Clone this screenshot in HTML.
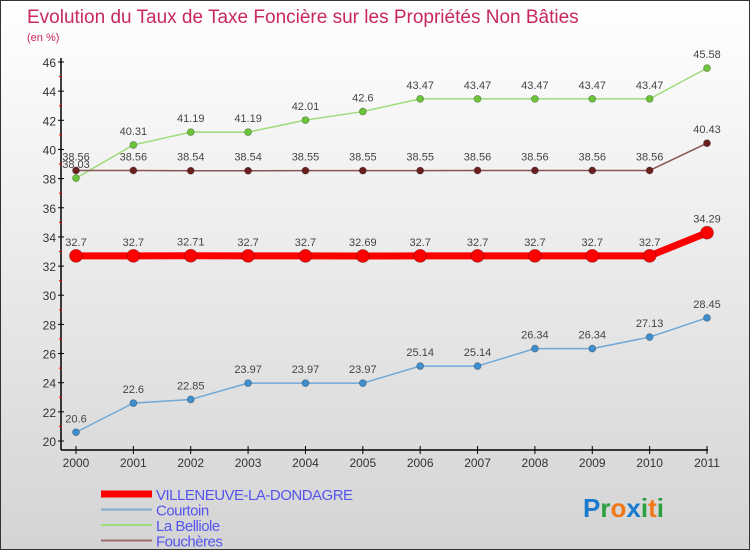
<!DOCTYPE html>
<html><head><meta charset="utf-8"><style>
body{margin:0}
#wrap{position:relative;width:748px;height:548px;border:1px solid #333;background:linear-gradient(#fff,#d4d4d4);font-family:"Liberation Sans",sans-serif;overflow:hidden}
svg{position:absolute;left:0;top:0}
</style></head><body>
<div id="wrap">
<svg id="c" width="750" height="550"></svg>
</div>
<script>
const years=[2000,2001,2002,2003,2004,2005,2006,2007,2008,2009,2010,2011];
const yTicks=[20,22,24,26,28,30,32,34,36,38,40,42,44,46];
const villeneuve=[32.7,32.7,32.71,32.7,32.7,32.69,32.7,32.7,32.7,32.7,32.7,34.29];
const villeneuveLabels=["32.7","32.7","32.71","32.7","32.7","32.69","32.7","32.7","32.7","32.7","32.7","34.29"];
const courtoin=[20.6,22.6,22.85,23.97,23.97,23.97,25.14,25.14,26.34,26.34,27.13,28.45];
const courtoinLabels=["20.6","22.6","22.85","23.97","23.97","23.97","25.14","25.14","26.34","26.34","27.13","28.45"];
const belliole=[38.03,40.31,41.19,41.19,42.01,42.6,43.47,43.47,43.47,43.47,43.47,45.58];
const bellioleLabels=["38.03","40.31","41.19","41.19","42.01","42.6","43.47","43.47","43.47","43.47","43.47","45.58"];
const foucheres=[38.56,38.56,38.54,38.54,38.55,38.55,38.55,38.56,38.56,38.56,38.56,40.43];
const foucheresLabels=["38.56","38.56","38.54","38.54","38.55","38.55","38.55","38.56","38.56","38.56","38.56","40.43"];

const svg=document.getElementById('c');const NS='http://www.w3.org/2000/svg';
function X(i){return 75+i*(706-75)/11;}
function Y(v){return 440-(v-20)*(440-61)/26;}
function mk(t,a,p){const e=document.createElementNS(NS,t);for(const k in a)e.setAttribute(k,a[k]);(p||svg).appendChild(e);return e;}
function txt(x,y,s,a){const e=mk('text',Object.assign({x:x,y:y},a));e.textContent=s;return e;}

let t=txt(26,22,"Evolution du Taux de Taxe Foncière sur les Propriétés Non Bâties",{fill:'#c8285a','font-size':19});


t=txt(26,40,"(en %)",{fill:'#c8285a','font-size':11});



// axes
let ax=mk('line',{x1:60,y1:57,x2:60,y2:449,stroke:'#000','stroke-width':1.5});


ax=mk('line',{x1:60,y1:449,x2:707,y2:449,stroke:'#000','stroke-width':1.5});


yTicks.forEach((v,i)=>{
  mk('line',{x1:57,y1:Y(v),x2:63,y2:Y(v),stroke:'#000'});
  if(i<yTicks.length-1)mk('line',{x1:58,y1:Y(v+1),x2:61,y2:Y(v+1),stroke:'#e00'});
  const e=txt(55,Y(v)+5,String(v),{fill:'#333','font-size':12,'text-anchor':'end'});
  
  
});
years.forEach((y,i)=>{
  mk('line',{x1:X(i),y1:445,x2:X(i),y2:453,stroke:'#000'});
  const e=txt(X(i),466,String(y),{fill:'#333','font-size':12,'text-anchor':'middle'});
  
  
});

function series(name,vals,labels,color,fill,w,r){
  const g=mk('g',{});
  
  
  mk('polyline',{points:vals.map((v,i)=>X(i)+','+Y(v)).join(' '),fill:'none',stroke:color,'stroke-width':w,'stroke-linejoin':'round'},g);
  vals.forEach((v,i)=>{
    const c=mk('circle',{cx:X(i),cy:Y(v),r:r,fill:fill,stroke:'rgba(0,0,0,0.3)','stroke-width':0.8},g);
    
    
    const l=txt(X(i),Y(v)-10,labels[i],{fill:'#444','font-size':11,'text-anchor':'middle'},g);
    
    
  });
}
series('courtoin',courtoin,courtoinLabels,'#6fa8d6','#3f8fcf',1.5,3.5);
series('la-belliole',belliole,bellioleLabels,'#9ddc7a','#6cc43a',1.5,3.5);
series('foucheres',foucheres,foucheresLabels,'#8a5454','#6b2020',1.5,3.5);
series('villeneuve',villeneuve,villeneuveLabels,'#ff0000','#ff0000',7,6.5);

const leg=[['VILLENEUVE-LA-DONDAGRE','#ff0000',7],['Courtoin','#7aaed6',2],['La Belliole','#9ddc7a',2],['Fouchères','#a07070',2]];
leg.forEach((l,i)=>{
  const g=mk('g',{});
  
  
  const y=493+i*15.5;
  mk('line',{x1:100,y1:y,x2:151,y2:y,stroke:l[1],'stroke-width':l[2]},g);
  txt(155,y+6,l[0],{fill:'#5555ee','font-size':15,'letter-spacing':'-0.5'},g);
});
const p=mk('text',{x:582,y:516,'font-size':26,'font-weight':'bold'});


[['P','#1a7ad0'],['r','#2aa040'],['o','#f07818'],['x','#1a7ad0'],['i','#2aa040'],['t','#f07818'],['i','#2aa040']].forEach(a=>{const s=mk('tspan',{fill:a[1]},p);s.textContent=a[0];});
</script>
</body></html>
